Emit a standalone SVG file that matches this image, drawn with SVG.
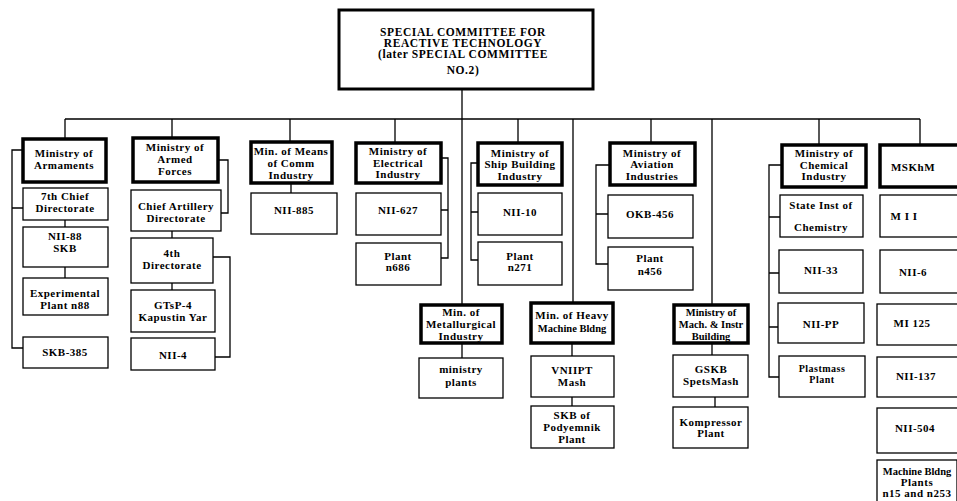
<svg xmlns="http://www.w3.org/2000/svg" width="957" height="501" viewBox="0 0 957 501">
<style>
text{font-family:"Liberation Serif","DejaVu Serif",serif;font-weight:bold;font-size:11px;letter-spacing:0.5px;text-anchor:middle;fill:#000}
.top text{font-size:11.5px;letter-spacing:0.6px}
.tight{letter-spacing:0;font-size:10.5px}
rect{fill:#fff;stroke:#000}
.m rect{stroke-width:3.5}
.s rect{stroke-width:1.3}
#connectors path{fill:none;stroke:#000;stroke-width:1.3}
</style>
<rect x="0" y="0" width="957" height="501" style="fill:#fff;stroke:none"/>
<g id="connectors">
<path d="M462 89V119M65 119H920"/>
<path d="M65 119V139M172 119V138M290 119V142M395 119V143M462 119V305M518 119V143M573 119V303M651 119V143M712 119V305M819 119V145M920 119V145"/>
<path d="M65 220V227M65 267V278M23 150H12V348H23M12 208H23"/>
<path d="M218 160H228V213H221M172 231V238M172 283V290M213 257H230V357H215"/>
<path d="M291 183V193M441 158H448V258H441M441 210H448"/>
<path d="M462 343V358"/>
<path d="M478 163H471V260H478M471 212H478"/>
<path d="M572 343V356M572 397V406"/>
<path d="M610 165H596V264H608M596 214H608"/>
<path d="M712 343V355M715 397V407"/>
<path d="M782 165H769V377H779M769 217H780M769 273H779M769 327H778"/>
</g>
<g id="n-top" class="m top"><rect x="339" y="10" width="254" height="79" style="stroke-width:3"/>
<text x="463" y="36">SPECIAL COMMITTEE FOR</text><text x="463" y="47">REACTIVE TECHNOLOGY</text><text x="463" y="58">(later SPECIAL COMMITTEE</text><text x="463" y="74">NO.2)</text></g>

<g id="n-arm" class="m"><rect x="23" y="139" width="83" height="43"/><text x="64" y="157">Ministry of</text><text x="64" y="169">Armaments</text></g>
<g id="n-arm1" class="s"><rect x="23" y="188" width="85" height="32"/><text x="65" y="200">7th Chief</text><text x="65" y="212">Directorate</text></g>
<g id="n-arm2" class="s"><rect x="23" y="227" width="85" height="40"/><text x="65" y="240">NII-88</text><text x="65" y="252">SKB</text></g>
<g id="n-arm3" class="s"><rect x="23" y="278" width="85" height="37"/><text x="65" y="297">Experimental</text><text x="65" y="309">Plant n88</text></g>
<g id="n-arm4" class="s"><rect x="23" y="337" width="85" height="31"/><text x="65" y="356">SKB-385</text></g>

<g id="n-af" class="m"><rect x="133" y="138" width="85" height="44"/><text x="175" y="151">Ministry of</text><text x="175" y="163">Armed</text><text x="175" y="175">Forces</text></g>
<g id="n-af1" class="s"><rect x="131" y="190" width="90" height="41"/><text x="176" y="210">Chief Artillery</text><text x="176" y="222">Directorate</text></g>
<g id="n-af2" class="s"><rect x="131" y="238" width="82" height="45"/><text x="172" y="257">4th</text><text x="172" y="269">Directorate</text></g>
<g id="n-af3" class="s"><rect x="131" y="290" width="84" height="42"/><text x="173" y="309">GTsP-4</text><text x="173" y="321">Kapustin Yar</text></g>
<g id="n-af4" class="s"><rect x="131" y="338" width="84" height="32"/><text x="173" y="359">NII-4</text></g>

<g id="n-comm" class="m"><rect x="251" y="142" width="81" height="41"/><text x="291" y="155">Min. of Means</text><text x="291" y="167">of Comm</text><text x="291" y="179">Industry</text></g>
<g id="n-comm1" class="s"><rect x="251" y="193" width="86" height="41"/><text x="294" y="214">NII-885</text></g>

<g id="n-elec" class="m"><rect x="356" y="143" width="85" height="40"/><text x="398" y="155">Ministry of</text><text x="398" y="167">Electrical</text><text x="398" y="178">Industry</text></g>
<g id="n-elec1" class="s"><rect x="356" y="193" width="85" height="42"/><text x="398" y="214">NII-627</text></g>
<g id="n-elec2" class="s"><rect x="356" y="243" width="85" height="42"/><text x="398" y="260">Plant</text><text x="398" y="271">n686</text></g>

<g id="n-met" class="m"><rect x="421" y="305" width="81" height="38"/><text x="461" y="316">Min. of</text><text x="461" y="328">Metallurgical</text><text x="461" y="340">Industry</text></g>
<g id="n-met1" class="s"><rect x="419" y="358" width="84" height="40"/><text x="461" y="373">ministry</text><text x="461" y="386">plants</text></g>

<g id="n-ship" class="m"><rect x="478" y="143" width="84" height="42"/><text x="520" y="157">Ministry of</text><text x="520" y="168">Ship Building</text><text x="520" y="180">Industry</text></g>
<g id="n-ship1" class="s"><rect x="478" y="193" width="84" height="42"/><text x="520" y="216">NII-10</text></g>
<g id="n-ship2" class="s"><rect x="478" y="242" width="84" height="43"/><text x="520" y="260">Plant</text><text x="520" y="271">n271</text></g>

<g id="n-heavy" class="m"><rect x="531" y="303" width="82" height="40"/><text x="572" y="319">Min. of Heavy</text><text x="572" y="332" class="tight">Machine Bldng</text></g>
<g id="n-heavy1" class="s"><rect x="531" y="356" width="83" height="41"/><text x="572" y="374">VNIIPT</text><text x="572" y="386">Mash</text></g>
<g id="n-heavy2" class="s"><rect x="531" y="406" width="83" height="42"/><text x="572" y="419">SKB of</text><text x="572" y="431">Podyemnik</text><text x="572" y="443">Plant</text></g>

<g id="n-avia" class="m"><rect x="610" y="143" width="85" height="42"/><text x="652" y="157">Ministry of</text><text x="652" y="168">Aviation</text><text x="652" y="180">Industries</text></g>
<g id="n-avia1" class="s"><rect x="608" y="195" width="85" height="43"/><text x="650" y="218">OKB-456</text></g>
<g id="n-avia2" class="s"><rect x="608" y="247" width="85" height="43"/><text x="650" y="262">Plant</text><text x="650" y="275">n456</text></g>

<g id="n-mach" class="m"><rect x="674" y="305" width="74" height="38"/><text x="711" y="316" class="tight">Ministry of</text><text x="711" y="328" class="tight">Mach. &amp; Instr</text><text x="711" y="340" class="tight">Building</text></g>
<g id="n-mach1" class="s"><rect x="673" y="355" width="75" height="42"/><text x="711" y="373">GSKB</text><text x="711" y="385">SpetsMash</text></g>
<g id="n-mach2" class="s"><rect x="673" y="407" width="75" height="41"/><text x="711" y="426">Kompressor</text><text x="711" y="437">Plant</text></g>

<g id="n-chem" class="m"><rect x="782" y="145" width="84" height="42"/><text x="824" y="157">Ministry of</text><text x="824" y="169">Chemical</text><text x="824" y="180">Industry</text></g>
<g id="n-chem1" class="s"><rect x="780" y="195" width="83" height="42"/><text x="821" y="209">State Inst of</text><text x="821" y="231">Chemistry</text></g>
<g id="n-chem2" class="s"><rect x="779" y="250" width="84" height="43"/><text x="821" y="274">NII-33</text></g>
<g id="n-chem3" class="s"><rect x="778" y="303" width="86" height="40"/><text x="821" y="328">NII-PP</text></g>
<g id="n-chem4" class="s"><rect x="779" y="356" width="86" height="41"/><text x="822" y="372" style="font-size:10px">Plastmass</text><text x="822" y="383" style="font-size:10px">Plant</text></g>

<g id="n-mskhm" class="m"><rect x="880" y="145" width="90" height="42"/><text x="913" y="171">MSKhM</text></g>
<g id="n-m1" class="s"><rect x="880" y="195" width="90" height="42"/><text x="904" y="220">M I I</text></g>
<g id="n-m2" class="s"><rect x="880" y="250" width="90" height="43"/><text x="913" y="276">NII-6</text></g>
<g id="n-m3" class="s"><rect x="877" y="304" width="90" height="41"/><text x="912" y="327">MI 125</text></g>
<g id="n-m4" class="s"><rect x="877" y="357" width="90" height="40"/><text x="916" y="380">NII-137</text></g>
<g id="n-m5" class="s"><rect x="877" y="408" width="90" height="45"/><text x="915" y="432">NII-504</text></g>
<g id="n-m6" class="s"><rect x="877" y="460" width="80" height="50"/><text x="917" y="475" class="tight">Machine Bldng</text><text x="917" y="486">Plants</text><text x="917" y="497">n15 and n253</text></g>
</svg>
